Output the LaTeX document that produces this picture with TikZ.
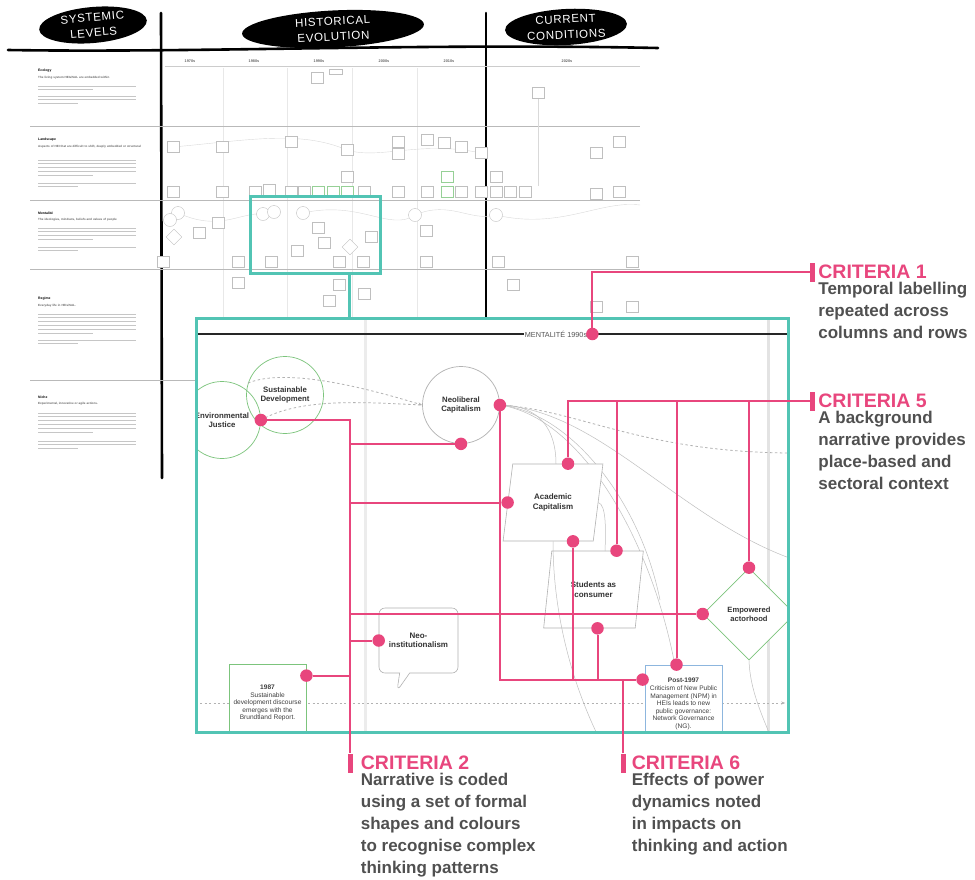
\documentclass[tikz,border=0pt]{standalone}
\usepackage{fontspec}
\setmainfont{Liberation Sans}
\newfontfamily\handfont[LetterSpace=6]{Liberation Sans}
\usetikzlibrary{shapes.geometric, shapes.callouts, arrows.meta, positioning, calc}
\definecolor{CritPink}{HTML}{E8467D}
\definecolor{FrameTeal}{HTML}{52C4B4}
\definecolor{ShapeGreen}{HTML}{7CC47C}
\definecolor{ShapeBlue}{HTML}{8DB6DE}
\definecolor{NoteGrey}{HTML}{505050}

% Level description in the left column of the overview
\newcommand{\levelblock}[7]{%
    \node[leveltitle] at (38,#1) {#2};
    \node[levelsub] at (38,#1+5) {#3};
    \foreach \k in {1,...,#5} {\draw[greek] (38,#4+\k*3.8-3.8) -- ++(98,0);}
    \draw[greek] (38,#4+#5*3.8) -- ++(55,0);
    \foreach \k in {1,...,#7} {\draw[greek] (38,#6+\k*3.8-3.8) -- ++(98,0);}
    \draw[greek] (38,#6+#7*3.8) -- ++(40,0);
}

\begin{document}
\begin{tikzpicture}[
    x=1pt, y=-1pt,
    % Header blobs
    blob/.style={
            ellipse,
            fill=black,
            text=white,
            inner sep=0pt,
            align=center,
            font=\handfont\fontsize{11.5}{15.5}\selectfont
        },
    % Hand drawn rules
    rule/.style={line width=2.6pt, line cap=round, black},
    % Overview (thumbnail)
    rowline/.style={gray!55, line width=1pt},
    decline/.style={gray!18, line width=0.5pt},
    faint/.style={gray!30, line width=0.4pt},
    greek/.style={gray!45, line width=0.8pt},
    leveltitle/.style={anchor=west, inner sep=0pt, font=\bfseries\fontsize{3.4}{4}\selectfont},
    levelsub/.style={anchor=north west, inner sep=0pt, text width=105pt,
            font=\bfseries\fontsize{3}{3.8}\selectfont, text=gray!80!black},
    decade/.style={inner sep=0pt, font=\bfseries\fontsize{3.8}{4}\selectfont, text=gray!80!black},
    thumbbox/.style={draw=#1, line width=0.4pt, fill=white, minimum width=12pt,
            minimum height=11pt, inner sep=0pt},
    thumbbox/.default=gray!50,
    thumbcirc/.style={circle, draw=gray!50, line width=0.4pt, fill=white, minimum size=13pt, inner sep=0pt},
    thumbdiam/.style={diamond, draw=gray!50, line width=0.4pt, fill=white, minimum size=16pt, inner sep=0pt},
    % Zoomed panel
    panel/.style={fill=white, minimum width=591pt, minimum height=413pt, inner sep=0pt},
    zoomframe/.style={draw=FrameTeal, line width=3pt},
    idea/.style={
            circle,
            draw=#1,
            line width=0.7pt,
            minimum size=77pt,
            inner sep=0pt,
            align=center,
            text=black!80,
            font=\bfseries\fontsize{7.8}{9}\selectfont
        },
    slanted/.style={
            trapezium,
            trapezium left angle=74,
            trapezium right angle=106,
            trapezium stretches=true,
            draw=gray!60,
            fill=white,
            line width=0.6pt,
            minimum width=100pt,
            minimum height=77pt,
            inner sep=0pt,
            align=center,
            text=black!80,
            font=\bfseries\fontsize{8}{9.5}\selectfont
        },
    choice/.style={
            diamond,
            draw=ShapeGreen,
            fill=white,
            line width=0.7pt,
            minimum size=92pt,
            inner sep=0pt,
            align=center,
            text=black!80,
            font=\bfseries\fontsize{7.6}{9}\selectfont
        },
    bubble/.style={
            rectangle callout,
            rounded corners=6pt,
            draw=gray!60,
            fill=white,
            line width=0.6pt,
            minimum width=79pt,
            minimum height=65pt,
            callout pointer width=10pt,
            align=center,
            text=black!80,
            font=\bfseries\fontsize{8}{9.5}\selectfont
        },
    notebox/.style={
            rectangle,
            draw=#1,
            fill=white,
            line width=0.8pt,
            minimum width=77pt,
            minimum height=78pt,
            inner sep=2pt,
            align=center,
            text=black!75,
            font=\fontsize{6.6}{7.6}\selectfont
        },
    mentlabel/.style={inner sep=1pt, text=gray!65!black, font=\fontsize{7.3}{8}\selectfont},
    flowdash/.style={gray!60, line width=0.8pt, dash pattern=on 2.5pt off 2.5pt},
    thread/.style={gray!50, line width=0.5pt},
    timeline/.style={gray!60, line width=0.6pt, dash pattern=on 2pt off 2.5pt,
            -{Stealth[length=4pt, width=3pt]}},
    % Criteria annotations
    dot/.style={circle, fill=CritPink, minimum size=12.5pt, inner sep=0pt},
    link/.style={CritPink, line width=2pt},
    critmark/.style={rectangle, fill=CritPink, minimum width=5pt, minimum height=19pt, inner sep=0pt},
    crittitle/.style={anchor=west, inner sep=0pt, text=CritPink, font=\bfseries\fontsize{19.5}{20}\selectfont},
    critbody/.style={align=left, inner sep=0pt, text=NoteGrey, font=\bfseries\fontsize{17}{22}\selectfont}
    ]

    \useasboundingbox (0,0) rectangle (975,879);

    % ========== HEADER ==========
    \node[blob, minimum width=108pt, minimum height=36pt, rotate=5] (levels) at (93,25) {SYSTEMIC\\LEVELS};
    \node[blob, minimum width=182pt, minimum height=37pt, rotate=3] (history) at (333,29) {HISTORICAL\\EVOLUTION};
    \node[blob, minimum width=122pt, minimum height=36pt, rotate=3] (current) at (566,27) {CURRENT\\CONDITIONS};

    \draw[rule] (8,50) .. controls (200,53) and (420,43) .. (658,48);
    \draw[rule] (161,13) -- (162,478);
    \draw[rule] (486,13) -- (486,478);

    % ========== OVERVIEW GRID ==========
    \foreach \lab/\dx in {1970s/190, 1980s/254, 1990s/319, 2000s/384, 2010s/449, 2020s/567}
        \node[decade] (dec-\lab) at (\dx,61) {\lab};
    \draw[gray!40, line width=1pt] (165,66) -- (640,66);
    \foreach \vx in {223,287,352,417}
        \draw[decline] (\vx,68) -- (\vx,480);
    \foreach \ry in {126,200,269}
        \draw[rowline] (30,\ry) -- (640,\ry);
    \draw[rowline] (30,380) -- (200,380);

    % Level descriptions
    \levelblock{71}{Ecology}{The living system HEIs/SAL are embedded within}{86}{1}{96}{2}
    \levelblock{140}{Landscape}{Aspects of HEI that are difficult to shift, deeply embedded or structural}{160}{4}{183}{1}
    \levelblock{213}{Mentalité}{The ideologies, mindsets, beliefs and values of people}{228}{3}{247}{1}
    \levelblock{299}{Regime}{Everyday life in HEIs/SAL.}{314}{5}{340}{1}
    \levelblock{397}{Niche}{Experimental, innovative or agile actions.}{413}{5}{441}{2}

    % Faint threads between overview items
    \draw[faint] (173,147) .. controls (250,140) and (300,130) .. (347,150) .. controls (380,160) and (420,140) .. (481,153);
    \draw[faint] (178,213) .. controls (220,232) and (240,212) .. (263,214);
    \draw[faint] (303,213) .. controls (360,200) and (390,232) .. (415,215) .. controls (450,200) and (470,222) .. (496,215);
    \draw[faint] (496,215) .. controls (560,230) and (600,200) .. (640,205);
    \draw[faint] (538,99) -- (538,186);

    % Overview items
    \foreach \bx/\by [count=\i] in {317/78, 538/93, 173/147, 222/147, 291/142, 347/150, 398/142,
            398/154, 427/140, 444/143, 461/147, 481/153, 596/153, 619/142,
            173/192, 222/192, 255/192, 269/190, 291/192, 304/192, 364/192, 398/192, 427/192,
            461/192, 481/192, 496/192, 510/192, 525/192, 596/194, 619/192, 347/177, 496/177,
            218/223, 199/233, 318/228, 324/243, 297/251, 371/237, 426/231,
            163/262, 238/262, 271/262, 339/262, 363/262, 426/262, 498/262, 632/262,
            238/283, 339/285, 364/294, 513/285, 329/301, 596/307, 632/307}
        \node[thumbbox] (tb\i) at (\bx,\by) {};
    \foreach \bx/\by [count=\i] in {318/192, 333/192, 347/192, 447/177, 447/192}
        \node[thumbbox=ShapeGreen!80] (tg\i) at (\bx,\by) {};
    \node[thumbbox, minimum width=13pt, minimum height=5pt] (tlabel) at (336,72) {};
    \foreach \cx/\cy [count=\i] in {178/213, 170/220, 263/214, 274/212, 303/213, 415/215, 496/215}
        \node[thumbcirc] (tc\i) at (\cx,\cy) {};
    \foreach \cx/\cy [count=\i] in {174/237, 350/247}
        \node[thumbdiam] (td\i) at (\cx,\cy) {};

    % Spotlight on the mentalite row
    \node[draw=FrameTeal, line width=3pt, minimum width=130pt, minimum height=77pt, inner sep=0pt] (spotlight) at (315,234.5) {};

    % ========== ZOOMED PANEL ==========
    \node[panel] (panel) at (492.5,525.5) {};
    \coordinate (tap) at ($(spotlight.south)+(34,0)$);
    \draw[FrameTeal, line width=3pt] (tap) -- (tap |- panel.north);

    \begin{scope}
        \clip (panel.north west) rectangle (panel.south east);

        % Column guides
        \draw[gray!15, line width=3pt] (365,319) -- (365,732);
        \draw[gray!22, line width=3pt] (768,319) -- (768,732);

        % Temporal label
        \node[mentlabel] (ment) at (556,334) {MENTALITÉ 1990s};
        \draw[black!85, line width=1.4pt] (panel.west |- ment) -- (ment.west);
        \draw[black!85, line width=1.4pt] (ment.east) -- (panel.east |- ment);

        % Time axis
        \coordinate (tstart) at (200,703);
        \draw[timeline] (tstart) -- ($(tstart -| panel.east)+(-3,0)$);

        % Ideas
        \node[idea=ShapeGreen] (envjust) at (222,420) {Environmental\\Justice};
        \node[idea=ShapeGreen] (susdev) at (285,395) {Sustainable\\Development};
        \node[idea=gray!60] (neolib) at (461,405) {Neoliberal\\Capitalism};

        % Influence threads
        \draw[flowdash, -{Stealth[length=4pt, width=3pt]}] (susdev.162) .. controls (285,368) and (360,386) .. (neolib.west);
        \draw[flowdash] (envjust.east) .. controls (300,398) and (360,402) .. (neolib.west);
        \draw[flowdash] (neolib.east) .. controls (580,410) and (640,452) .. (790,453);
        \draw[thread] (neolib.east) .. controls (540,405) and (556,430) .. (556,464);
        \draw[thread] (neolib.east) .. controls (600,410) and (680,520) .. (795,560);
        \draw[thread] (neolib.east) .. controls (600,420) and (680,600) .. (683,740);
        \draw[thread] (neolib.east) .. controls (570,412) and (640,500) .. (660,600);

        \node[slanted] (acad) at (553,502.5) {Academic\\Capitalism};
        \node[slanted] (students) at (593.5,589.5) {Students as\\consumer};
        \draw[thread] (acad.east) .. controls (606,505) and (606,528) .. (605,551);
        \draw[thread] (acad.south) .. controls (553,620) and (575,690) .. (600,740);

        \node[choice] (empower) at (749,614) {Empowered\\actorhood};
        \draw[thread] (empower.south) .. controls (750,690) and (762,715) .. (772,740);

        \node[bubble, callout absolute pointer={(397,691)}] (neoinst) at (418.5,640.5) {Neo-\\institutionalism};

        \node[notebox=ShapeGreen] (note1987) at (267.5,703) {\textbf{1987}\\Sustainable\\development discourse\\emerges with the\\Brundtland Report.};
        \node[notebox=ShapeBlue] (note1997) at (683.5,704) {\textbf{Post-1997}\\Criticism of New Public\\Management (NPM) in\\HEIs leads to new\\public governance:\\Network Governance\\(NG).};
    \end{scope}

    \draw[zoomframe] (panel.north west) rectangle (panel.south east);

    % ========== CRITERIA DOTS ==========
    \node[dot] (d-ment) at ($(ment.east)+(4,0)$) {};
    \node[dot] (d-ej) at (envjust.east) {};
    \node[dot] (d-neoright) at (neolib.east) {};
    \node[dot] (d-neobottom) at (neolib.south) {};
    \node[dot] (d-acadleft) at (acad.west) {};
    \node[dot] (d-acadtop) at ($(acad.north)+(15,0)$) {};
    \node[dot] (d-acadbottom) at ($(acad.south)+(20,0)$) {};
    \node[dot] (d-studtop) at ($(students.north)+(23,0)$) {};
    \node[dot] (d-studbottom) at ($(students.south)+(4,0)$) {};
    \node[dot] (d-emptop) at (empower.north) {};
    \node[dot] (d-empleft) at (empower.west) {};
    \node[dot] (d-neoinst) at (neoinst.west) {};
    \node[dot] (d-1987) at ($(note1987.north east)+(0,12)$) {};
    \node[dot] (d-posttop) at ($(note1997.north)+(-7,0)$) {};
    \node[dot] (d-postleft) at ($(note1997.north west)+(-2,15)$) {};

    % ========== CRITERIA MARKERS ==========
    \node[critmark] (mark1) at (812.5,272) {};
    \node[critmark] (mark5) at (812.5,401) {};
    \node[critmark] (mark2) at (350,763) {};
    \node[critmark] (mark6) at (623,763) {};

    % Criteria 1
    \draw[link] (d-ment) |- (mark1.west);
    % Criteria 5
    \draw[link] (d-acadtop) |- (mark5.west);
    \draw[link] (d-studtop) -- (d-studtop |- mark5.west);
    \draw[link] (d-posttop) -- (d-posttop |- mark5.west);
    \draw[link] (d-emptop) -- (d-emptop |- mark5.west);
    % Criteria 2
    \draw[link] (d-ej) -| (mark2.north);
    \draw[link] (d-neobottom) -- (d-neobottom -| mark2.north);
    \draw[link] (d-acadleft) -- (d-acadleft -| mark2.north);
    \draw[link] (d-empleft) -- (d-empleft -| mark2.north);
    \draw[link] (d-neoinst) -- (d-neoinst -| mark2.north);
    \draw[link] (d-1987) -- (d-1987 -| mark2.north);
    % Criteria 6
    \draw[link] (d-neoright) |- (d-postleft);
    \draw[link] (d-acadbottom) -- (d-acadbottom |- d-postleft);
    \draw[link] (d-studbottom) -- (d-studbottom |- d-postleft);
    \draw[link] (mark6.north) -- (mark6.north |- d-postleft);

    % ========== CRITERIA TEXTS ==========
    \node[crittitle, right=3pt of mark1] (crit1) {CRITERIA 1};
    \node[critbody, below=3pt of crit1.south west, anchor=north west] (crit1text) {Temporal labelling\\repeated across\\columns and rows};

    \node[crittitle, right=3pt of mark5] (crit5) {CRITERIA 5};
    \node[critbody, below=3pt of crit5.south west, anchor=north west] (crit5text) {A background\\narrative provides\\place-based and\\sectoral context};

    \node[crittitle, right=8pt of mark2] (crit2) {CRITERIA 2};
    \node[critbody, below=3pt of crit2.south west, anchor=north west] (crit2text) {Narrative is coded\\using a set of formal\\shapes and colours\\to recognise complex\\thinking patterns};

    \node[crittitle, right=6pt of mark6] (crit6) {CRITERIA 6};
    \node[critbody, below=3pt of crit6.south west, anchor=north west] (crit6text) {Effects of power\\dynamics noted\\in impacts on\\thinking and action};

\end{tikzpicture}
\end{document}
